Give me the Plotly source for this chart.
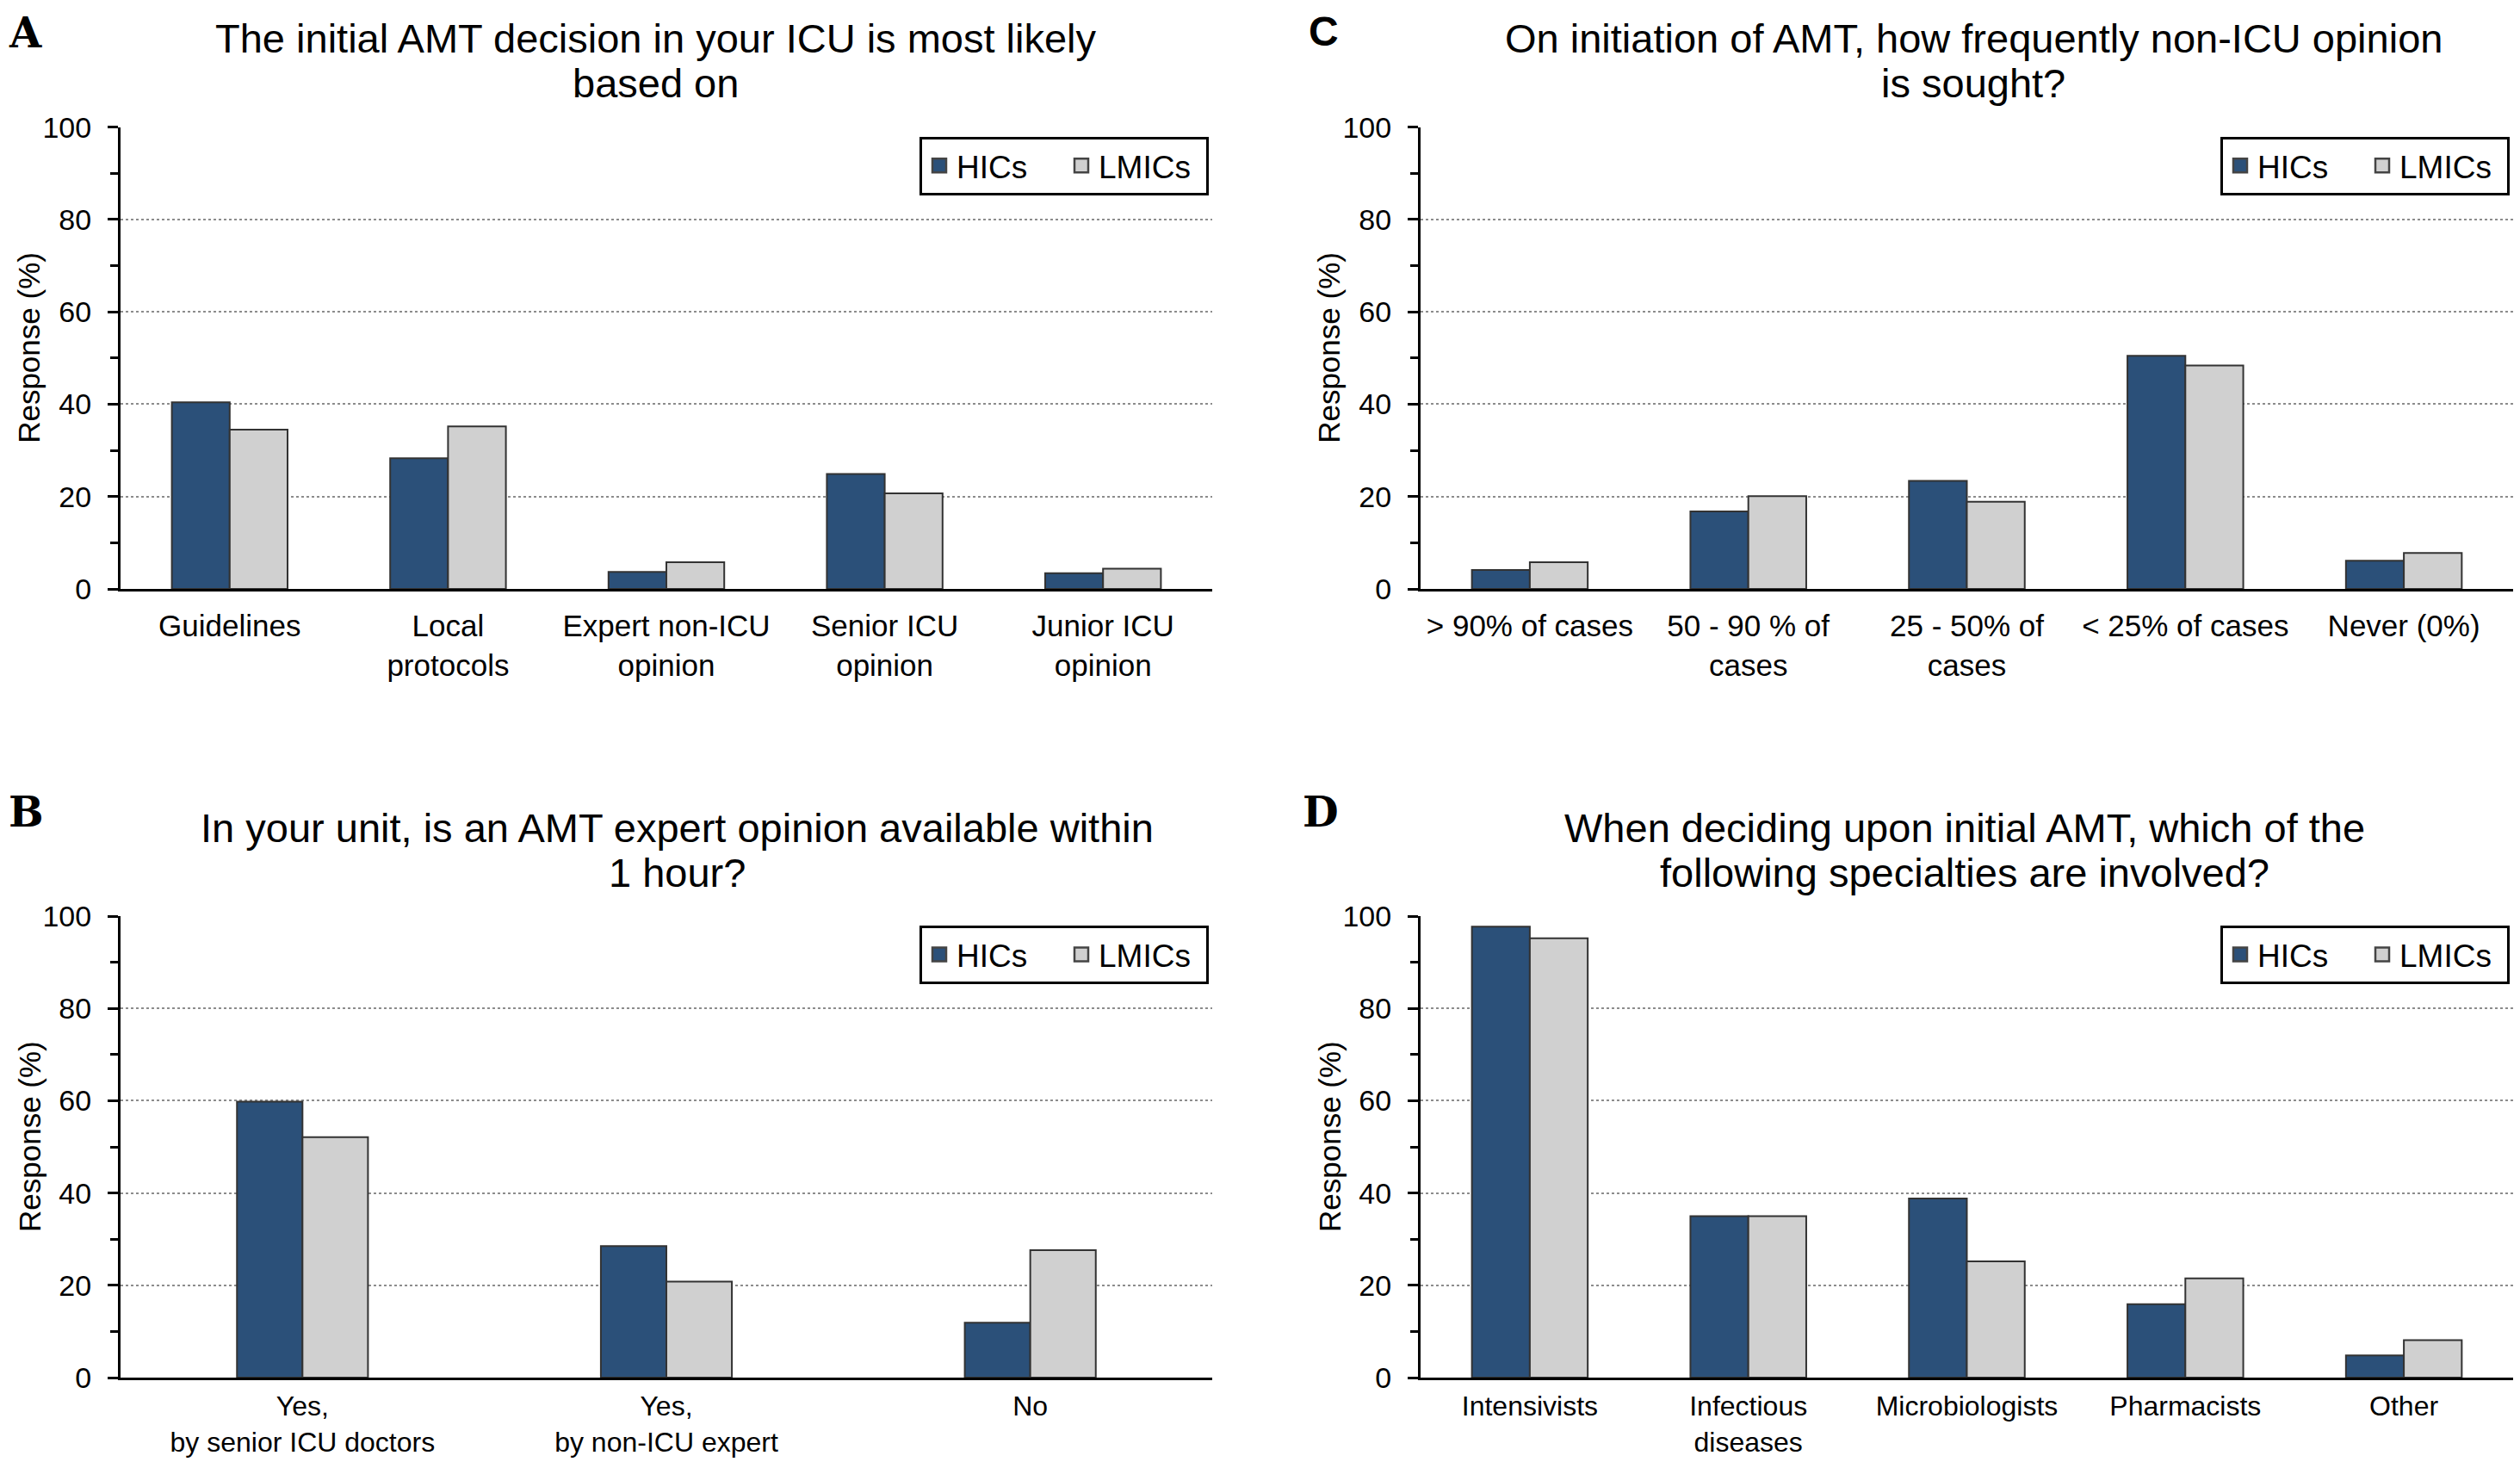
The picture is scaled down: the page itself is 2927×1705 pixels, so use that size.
import plotly.graph_objects as go

# ---------------- data ----------------
series_names = ["HICs", "LMICs"]

A_title = ["The initial AMT decision in your ICU is most likely", "based on"]
A_cats = ["Guidelines", "Local<br>protocols", "Expert non-ICU<br>opinion",
          "Senior ICU<br>opinion", "Junior ICU<br>opinion"]
A_hic = [40.4, 28.3, 3.7, 24.9, 3.4]
A_lmic = [34.5, 35.2, 5.8, 20.7, 4.4]

B_title = ["In your unit, is an AMT expert opinion available within", "1 hour?"]
B_cats = ["Yes,<br>by senior ICU doctors", "Yes,<br>by non-ICU expert", "No"]
B_hic = [59.8, 28.5, 11.9]
B_lmic = [52.1, 20.8, 27.6]

C_title = ["On initiation of AMT, how frequently non-ICU opinion", "is sought?"]
C_cats = ["&gt; 90% of cases", "50 - 90 % of<br>cases", "25 - 50% of<br>cases",
          "&lt; 25% of cases", "Never (0%)"]
C_hic = [4.1, 16.8, 23.4, 50.5, 6.1]
C_lmic = [5.8, 20.1, 18.9, 48.4, 7.8]

D_title = ["When deciding upon initial AMT, which of the", "following specialties are involved?"]
D_cats = ["Intensivists", "Infectious<br>diseases", "Microbiologists",
          "Pharmacists", "Other"]
D_hic = [97.7, 35.0, 38.8, 15.9, 4.8]
D_lmic = [95.2, 35.0, 25.2, 21.5, 8.1]

y_tickvals = [0, 20, 40, 60, 80, 100]

# ---------------- style ----------------
PAGE_W, PAGE_H = 2927, 1705
BODY_MARGIN = 8          # default page margin around the plot div
W, H = PAGE_W - 2 * BODY_MARGIN, PAGE_H - 2 * BODY_MARGIN
HIC_COLOR = "#2b5079"
LMIC_COLOR = "#d0d0d0"
SANS = "Liberation Sans, Arial, sans-serif"
LETTER_SERIF = "DejaVu Serif, Liberation Serif, serif"

def px_x(p):
    return min(1.0, max(0.0, (p - BODY_MARGIN) / W))

def px_y(p):
    return min(1.0, max(0.0, 1 - (p - BODY_MARGIN) / H))

panels = [
    # key, title lines, cats, hic, lmic, xdom(px), ydom(px), bar width, title center x,
    # title line ys, letter (x, xanchor, y, yanchor), x tick font size, x tick standoff
    ("A", A_title, A_cats, A_hic, A_lmic, (140, 1408), (147.7, 684), 0.265, 762, (45, 97),
     (8, "left", 8, "top"), 35, 10),
    ("B", B_title, B_cats, B_hic, B_lmic, (140, 1408), (1064, 1600), 0.18, 786, (961, 1013),
     (8, "left", 943, "middle"), 32, 3),
    ("C", C_title, C_cats, C_hic, C_lmic, (1650, 2919), (147.7, 684), 0.265, 2292, (45, 97),
     (1538, "center", 8, "top"), 35, 10),
    ("D", D_title, D_cats, D_hic, D_lmic, (1650, 2919), (1064, 1600), 0.265, 2282, (961, 1013),
     (1534, "center", 943, "middle"), 32, 3),
]

fig = go.Figure()
layout = dict(
    width=W, height=H,
    margin=dict(l=0, r=0, t=0, b=0, autoexpand=False),
    paper_bgcolor="white", plot_bgcolor="white",
    barmode="group",
    annotations=[],
)

for i, (key, title, cats, hic, lmic, xd, yd, bw, tcx, tys, letter, xfs, xso) in enumerate(panels):
    n = i + 1
    xa = "x" if n == 1 else f"x{n}"
    ya = "y" if n == 1 else f"y{n}"
    lg = "legend" if n == 1 else f"legend{n}"
    for name, vals, color, off in [(series_names[0], hic, HIC_COLOR, -bw),
                                   (series_names[1], lmic, LMIC_COLOR, 0.0)]:
        fig.add_trace(go.Bar(
            x=cats, y=vals, name=name, xaxis=xa, yaxis=ya,
            width=bw, offset=off, showlegend=False,
            marker=dict(color=color, line=dict(color="#333333", width=2)),
        ))
        # legend entry with a larger square swatch (draws nothing on the plot)
        fig.add_trace(go.Scatter(
            x=[None], y=[None], name=name, xaxis=xa, yaxis=ya, legend=lg,
            mode="markers",
            marker=dict(symbol="square", size=21, color=color,
                        line=dict(color="#444444", width=2.5)),
        ))
    xkey = "xaxis" if n == 1 else f"xaxis{n}"
    ykey = "yaxis" if n == 1 else f"yaxis{n}"
    layout[xkey] = dict(
        domain=[px_x(xd[0]), px_x(xd[1])], anchor=ya,
        type="category", range=[-0.5, len(cats) - 0.5],
        showline=True, linecolor="black", linewidth=3,
        ticks="", showgrid=False, zeroline=False, automargin=False,
        tickfont=dict(family=SANS, size=xfs, color="black"),
        ticklabelstandoff=xso,
    )
    layout[ykey] = dict(
        domain=[px_y(yd[1]), px_y(yd[0])], anchor=xa,
        range=[0, 100], tickvals=y_tickvals, automargin=False,
        showline=True, linecolor="black", linewidth=3,
        ticks="outside", ticklen=12, tickwidth=3, tickcolor="black",
        minor=dict(dtick=10, ticks="outside", ticklen=9, tickwidth=3, tickcolor="black",
                   showgrid=False),
        showgrid=True, gridcolor="#8c8c8c", gridwidth=2, griddash="dot",
        zeroline=False,
        tickfont=dict(family=SANS, size=34, color="black"),
        ticklabelstandoff=12,
    )
    layout[lg] = dict(
        orientation="h",
        x=px_x(xd[1] - 4), xanchor="right",
        y=px_y(yd[0] + 11), yanchor="top",
        bgcolor="white", bordercolor="black", borderwidth=3,
        font=dict(family=SANS, size=37, color="black"),
        itemwidth=30, entrywidth=120, entrywidthmode="pixels",
        tracegroupgap=0,
    )
    # title (two lines)
    for line, ty in zip(title, tys):
        layout["annotations"].append(dict(
            text=line, xref="paper", yref="paper",
            x=px_x(tcx), y=px_y(ty), xanchor="center", yanchor="middle",
            showarrow=False, font=dict(family=SANS, size=47, color="black"),
        ))
    # y-axis title
    layout["annotations"].append(dict(
        text="Response (%)", xref="paper", yref="paper",
        x=px_x(xd[0] - 106), y=px_y((yd[0] + yd[1]) / 2 - 12),
        xanchor="center", yanchor="middle", textangle=-90,
        showarrow=False, font=dict(family=SANS, size=35, color="black"),
    ))
    # panel letter
    lx, lxa, ly, lya = letter
    layout["annotations"].append(dict(
        text=f"<b>{key}</b>", xref="paper", yref="paper",
        x=px_x(lx), y=px_y(ly), xanchor=lxa, yanchor=lya,
        showarrow=False,
        font=dict(family=(SANS if key == "C" else LETTER_SERIF),
                  size=48, color="black"),
    ))

fig.update_layout(**layout)
fig.write_html("out.html")
